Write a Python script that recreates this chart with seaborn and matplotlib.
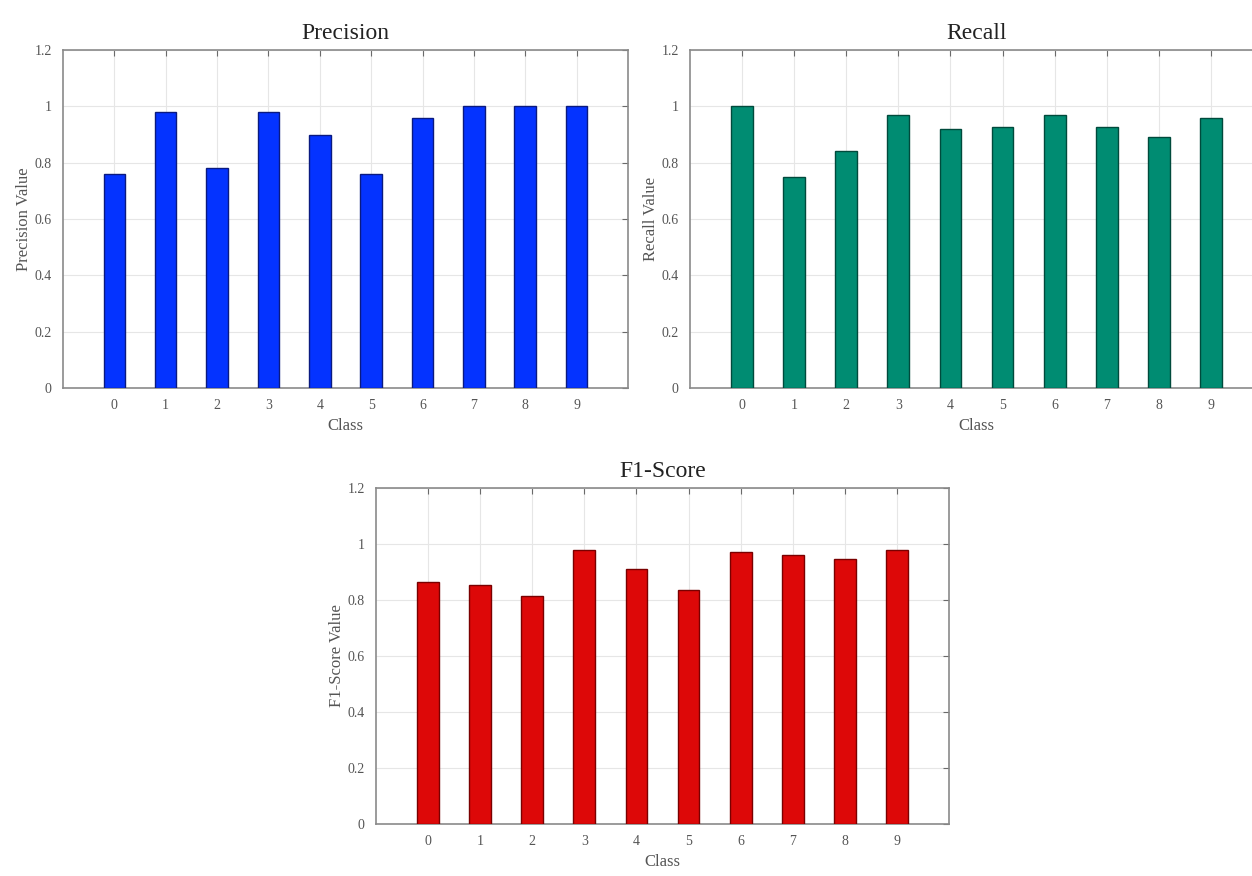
import matplotlib
matplotlib.use("Agg")
import matplotlib.pyplot as plt
import seaborn as sns

# --- datos ---
clases = ["0", "1", "2", "3", "4", "5", "6", "7", "8", "9"]
precision = [0.76, 0.98, 0.78, 0.98, 0.90, 0.76, 0.96, 1.00, 1.00, 1.00]
recall = [1.00, 0.75, 0.84, 0.97, 0.92, 0.925, 0.97, 0.925, 0.89, 0.96]
f1 = [0.865, 0.855, 0.815, 0.98, 0.91, 0.835, 0.97, 0.96, 0.945, 0.98]
y_ticks = [0, 0.2, 0.4, 0.6, 0.8, 1.0, 1.2]
y_labels = ["0", "0.2", "0.4", "0.6", "0.8", "1", "1.2"]

sns.set_style("white")
plt.rcParams["font.family"] = ["Liberation Serif", "DejaVu Serif"]

fig = plt.figure(figsize=(12.52, 8.76), dpi=100)

paneles = [
    ([0.0503, 0.5571, 0.4513, 0.3858], precision, "Precision", "Precision Value", "#0433FF", "#0a1a80"),
    ([0.5511, 0.5571, 0.4577, 0.3858], recall, "Recall", "Recall Value", "#008C72", "#004a3c"),
    ([0.3003, 0.0594, 0.4577, 0.3836], f1, "F1-Score", "F1-Score Value", "#DD0808", "#7a0000"),
]

for pos, vals, titulo, ylab, c, borde in paneles:
    ax = fig.add_axes(pos)
    sns.barplot(x=clases, y=vals, color=c, saturation=1, width=0.42,
                edgecolor=borde, linewidth=1.0, ax=ax, zorder=3)
    ax.set_xlim(-1, 10)
    ax.set_ylim(0, 1.2)
    ax.set_yticks(y_ticks)
    ax.set_yticklabels(y_labels)
    ax.grid(True, color="#e6e6e6", linewidth=0.8, zorder=0)
    ax.set_axisbelow(True)
    for s in ax.spines.values():
        s.set_visible(True)
        s.set_color("#8a8a8a")
        s.set_linewidth(1.2)
    ax.tick_params(direction="in", length=4, color="#6a6a6a", top=True, right=True,
                   labelsize=10, labelcolor="#555555", pad=8)
    ax.set_title(titulo, fontsize=17, color="#222222", pad=8)
    ax.set_xlabel("Class", fontsize=12, color="#555555", labelpad=4)
    ax.set_ylabel(ylab, fontsize=12, color="#555555", labelpad=2)

plt.savefig("out.png", dpi=100)
plt.close()
